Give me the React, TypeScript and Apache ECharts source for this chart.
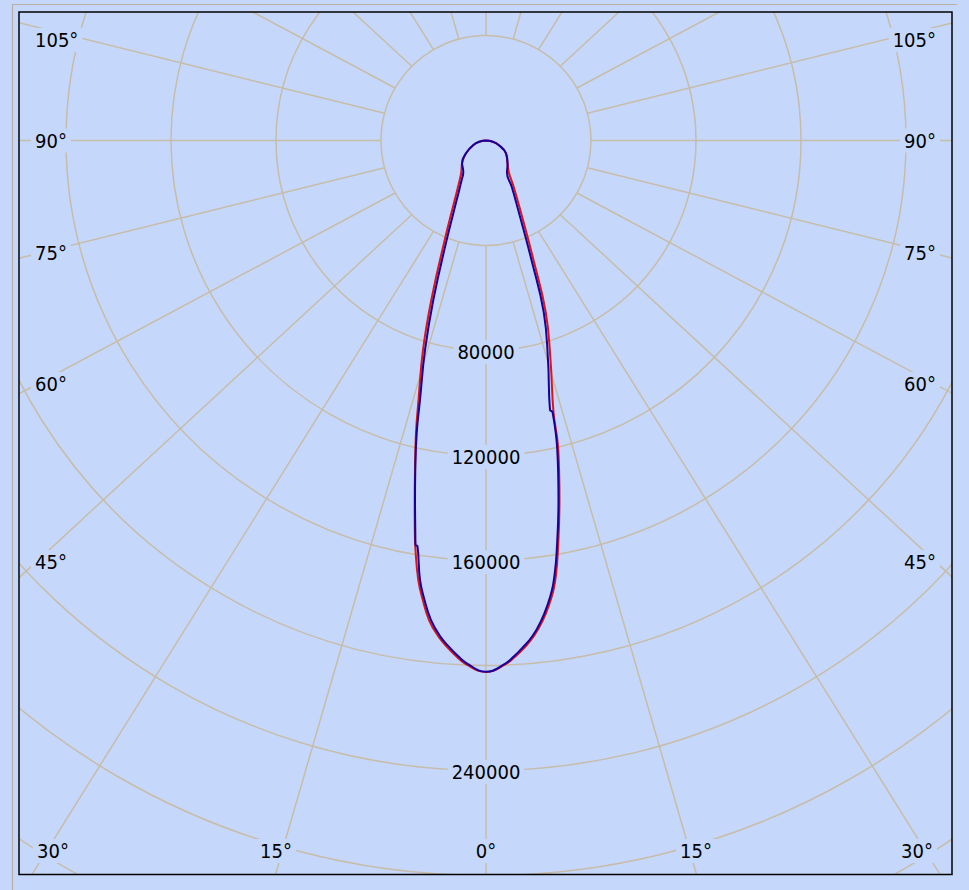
import React, { useEffect, useRef } from "react";
import * as echarts from "echarts";

// ---------------- data ----------------
const radiusMax = 320000;
const radiusStep = 40000;
const radiusLabelValues = [80000, 120000, 160000, 240000];

const spokeAngles = [0, 15, 30, 45, 60, 75, 90, 105, 120, 135, 150, 165, 180];
const sideLabels = ["105°", "90°", "75°", "60°", "45°"];
const bottomLabels = ["30°", "15°", "0°", "15°", "30°"];

// gamma = angle from nadir (0° = straight down), listed from 90° down to 0°
const blueLeftGamma = [90, 80.5, 70.5, 57.4, 46.8, 36.0, 31.6, 26.2, 21.55, 18.28, 16.23, 14.27, 13.33, 12.11, 11.17, 10.29, 9.89, 9.59, 8.54, 7.62, 6.54, 5.3, 4.06, 3.11, 2.11, 0];
const blueLeftValues = [0, 2300, 5100, 9050, 12500, 14700, 17700, 25300, 40800, 64000, 83100, 102000, 114500, 128400, 139600, 150800, 156400, 156700, 169300, 176600, 183900, 189600, 193800, 196700, 199300, 202400];

const blueRightGamma = [90, 80.5, 70.5, 57.4, 42.6, 33.0, 29.1, 25.0, 20.8, 18.57, 15.77, 13.36, 13.76, 12.97, 11.4, 9.68, 8.96, 8.35, 7.54, 6.6, 5.36, 4.06, 3.11, 2.11, 0];
const blueRightValues = [0, 2300, 5100, 9050, 12150, 14670, 20140, 28800, 49000, 69100, 86900, 105500, 106500, 121000, 139700, 159800, 167600, 173100, 178500, 183900, 189600, 193900, 196800, 199400, 202400];

const redLeftGamma = [90, 80.5, 70.5, 57.4, 46.8, 38.1, 33.66, 27.75, 22.54, 18.93, 16.74, 14.58, 13.46, 12.16, 11.22, 10.36, 9.77, 8.76, 7.83, 6.78, 5.53, 4.3, 3.3, 2.3, 0];
const redLeftValues = [0, 2300, 5100, 9050, 12500, 15250, 18080, 25610, 41040, 64230, 83340, 102140, 114580, 128410, 139620, 150850, 158300, 169400, 176700, 183960, 189640, 193800, 196800, 199400, 202480];

const redRightGamma = [90, 80.5, 70.5, 57.4, 42.6, 35.3, 30.9, 26.4, 21.63, 19.17, 16.38, 13.96, 13.15, 11.55, 9.84, 9.15, 8.54, 7.72, 6.78, 5.53, 4.25, 3.25, 2.2, 0];
const redRightValues = [0, 2300, 5100, 9050, 12150, 15170, 20520, 29130, 49300, 69370, 87160, 106580, 121070, 139780, 159880, 167660, 173150, 178590, 183960, 189640, 194000, 196900, 199500, 202480];

// ---------------- layout / style ----------------
const W = 969;
const H = 890;
const CX = 486;
const CY = 140.5;
const PX_PER_UNIT = 105 / 40000;
const FRAME = { x: 19, y: 12, w: 933, h: 862.5 };
const K = FRAME.w / FRAME.h;
const BG = "#c5d8fc";
const GRID = "#c7bca8";
const FONT = '20px "DejaVu Sans Condensed", "DejaVu Sans", sans-serif';
const sideLabelY = [40, 140.5, 253, 384, 562];
const bottomLabelX = [53, 276, 486, 696, 917];
const bottomLabelY = 851;

function buildLoop(lg: number[], lv: number[], rg: number[], rv: number[]) {
  const pts: number[][] = [];
  for (let i = 0; i < lg.length; i++) pts.push([lv[i], lg[i]]);
  for (let i = rg.length - 1; i >= 0; i--) pts.push([rv[i], 360 - rg[i]]);
  return pts;
}

function spokeLine(theta: number, side: number) {
  const t = (theta * Math.PI) / 180;
  const r0 = radiusStep * PX_PER_UNIT;
  const x1 = CX + side * r0 * Math.sin(t);
  const y1 = CY + r0 * Math.cos(t);
  let dx = side * K * Math.sin(t);
  let dy = Math.cos(t);
  const n = Math.hypot(dx, dy);
  dx /= n;
  dy /= n;
  return {
    type: "line",
    silent: true,
    z: 1,
    shape: { x1, y1, x2: x1 + 1500 * dx, y2: y1 + 1500 * dy },
    style: { stroke: GRID, lineWidth: 1.5 },
  };
}

function label(text: string, x: number, y: number, align: string) {
  return {
    type: "text",
    silent: true,
    z: 60,
    x,
    y,
    style: {
      text,
      font: FONT,
      fill: "#000",
      align,
      verticalAlign: "middle",
      backgroundColor: BG,
      padding: [2, 4],
    },
  };
}

export default function App() {
  const ref = useRef<HTMLDivElement>(null);

  useEffect(() => {
    if (!ref.current) return;
    const chart = echarts.init(ref.current, undefined, { renderer: "svg" });

    const graphics: any[] = [];
    spokeAngles.forEach((a) => {
      graphics.push(spokeLine(a, -1));
      if (a !== 0 && a !== 180) graphics.push(spokeLine(a, 1));
    });
    const masks = [
      [0, 0, W, FRAME.y],
      [0, 0, FRAME.x, H],
      [FRAME.x + FRAME.w, 0, W - FRAME.x - FRAME.w, H],
      [0, FRAME.y + FRAME.h, W, H - FRAME.y - FRAME.h],
    ];
    masks.forEach((m) =>
      graphics.push({
        type: "rect",
        silent: true,
        z: 40,
        shape: { x: m[0], y: m[1], width: m[2], height: m[3] },
        style: { fill: BG },
      })
    );
    graphics.push({
      type: "rect",
      silent: true,
      z: 45,
      shape: { x: FRAME.x, y: FRAME.y, width: FRAME.w, height: FRAME.h },
      style: { fill: "none", stroke: "#000", lineWidth: 1.5 },
    });
    graphics.push({
      type: "polyline",
      silent: true,
      z: 45,
      shape: { points: [[12.5, H], [12.5, 4.5], [957, 4.5]] },
      style: { fill: "none", stroke: "#b9b2a4", lineWidth: 1.2 },
    });
    sideLabels.forEach((t, i) => {
      graphics.push(label(t, 31, sideLabelY[i], "left"));
      graphics.push(label(t, 940, sideLabelY[i], "right"));
    });
    bottomLabels.forEach((t, i) => {
      graphics.push(label(t, bottomLabelX[i], bottomLabelY, "center"));
    });
    radiusLabelValues.forEach((v) => {
      graphics.push(label(String(v), CX, CY + v * PX_PER_UNIT + 1.5, "center"));
    });

    chart.setOption({
      animation: false,
      backgroundColor: BG,
      polar: { center: [CX, CY], radius: radiusMax * PX_PER_UNIT },
      angleAxis: {
        type: "value",
        min: 0,
        max: 360,
        startAngle: 270,
        clockwise: true,
        axisLine: { show: false },
        axisTick: { show: false },
        axisLabel: { show: false },
        splitLine: { show: false },
      },
      radiusAxis: {
        type: "value",
        min: 0,
        max: radiusMax,
        interval: radiusStep,
        axisLine: { show: false },
        axisTick: { show: false },
        axisLabel: { show: false },
        splitLine: { show: true, lineStyle: { color: GRID, width: 1.5 } },
      },
      series: [
        {
          type: "line",
          coordinateSystem: "polar",
          name: "C0-C180",
          data: buildLoop(redLeftGamma, redLeftValues, redRightGamma, redRightValues),
          showSymbol: false,
          symbol: "none",
          smooth: 0.45,
          silent: true,
          z: 3,
          lineStyle: { color: "#e01414", width: 2 },
        },
        {
          type: "line",
          coordinateSystem: "polar",
          name: "C90-C270",
          data: buildLoop(blueLeftGamma, blueLeftValues, blueRightGamma, blueRightValues),
          showSymbol: false,
          symbol: "none",
          smooth: 0.45,
          silent: true,
          z: 4,
          lineStyle: { color: "#16009e", width: 2 },
        },
      ],
      graphic: graphics,
    });

    return () => chart.dispose();
  }, []);

  return (
    <div
      ref={ref}
      style={{ position: "fixed", left: 0, top: 0, width: W, height: H }}
    />
  );
}
